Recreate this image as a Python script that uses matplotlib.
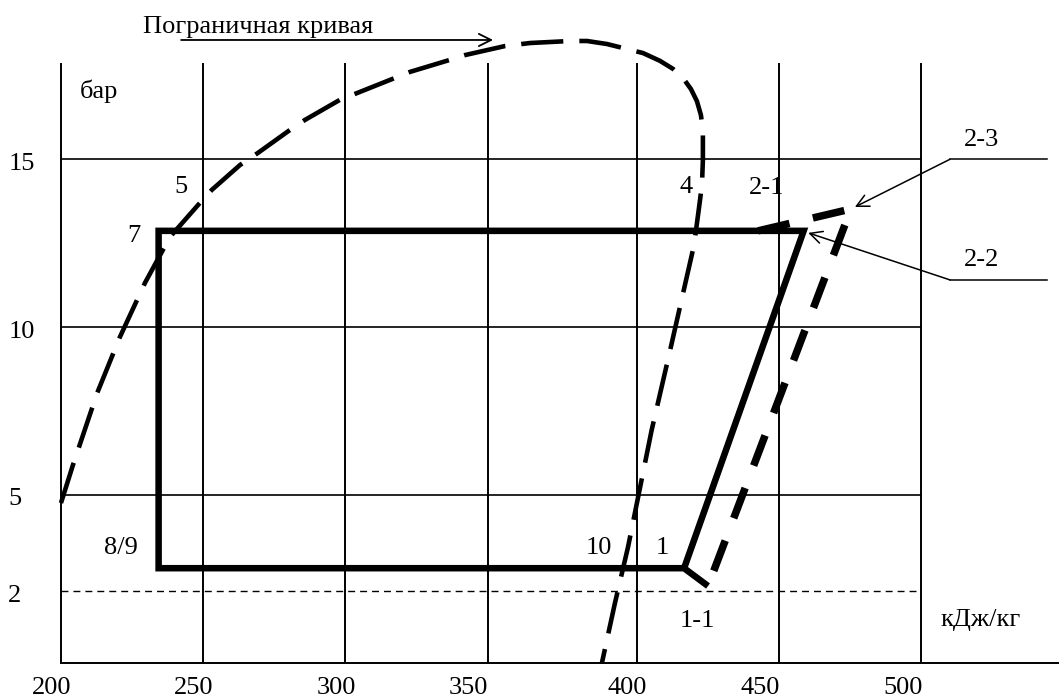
import matplotlib
matplotlib.use("Agg")
import matplotlib.pyplot as plt

plt.rcParams['font.family'] = ['Liberation Serif', 'DejaVu Serif']

# pressure (bar) vs enthalpy (kJ/kg)
grid_h = [200, 250, 300, 350, 402.3, 452.3, 502.3]
grid_p = [5, 10, 15]
p_low_line = 2.15

x_tick_labels = ['200', '250', '300', '350', '400', '450', '500']
y_tick_labels = ['15', '10', '5', '2']

# boundary curve (saturation dome)
curve_h = [200.1, 204.3, 212.8, 220.8, 229.6, 238.4, 248.9, 253.1, 263.0, 269.3,
           280.5, 285.8, 298.1, 304.1, 317.4, 322.7, 336.8, 342.0, 356.1, 364.9,
           379.0, 384.9, 391.9, 399.0, 404.6, 410.5, 415.1, 418.6, 421.4, 423.5,
           424.9, 425.6, 425.6, 425.6, 425.3, 424.6, 422.5, 419.3, 414.1, 407.6,
           403.5, 399.3, 394.7, 390.1]
curve_p = [4.77, 5.90, 8.04, 9.71, 11.32, 12.69, 13.70, 14.09, 14.83, 15.19,
           15.87, 16.17, 16.77, 16.97, 17.42, 17.60, 17.96, 18.10, 18.37, 18.46,
           18.52, 18.52, 18.43, 18.28, 18.16, 17.93, 17.69, 17.42, 17.09, 16.73,
           16.32, 15.87, 15.51, 14.98, 14.29, 13.79, 12.45, 11.26, 9.32, 6.94,
           5.22, 3.46, 1.79, 0.0]

# cycle: 1-1 -> 1 -> 8/9 -> 7 -> 2-2 -> 1
cycle_h = [427.4, 419.0, 234.4, 234.4, 461.0, 419.0]
cycle_p = [2.30, 2.83, 2.83, 12.87, 12.87, 2.83]

# real compression: 2-1 -> 2-3 -> 1-1
real_h = [445.0, 477.6, 427.4]
real_p = [12.87, 13.52, 2.30]

fig = plt.figure(figsize=(10.59, 6.99), dpi=100)
ax = fig.add_axes([0, 0, 1, 1])
ax.set_xlim(178.68, 550.7)
ax.set_ylim(-1.0625, 19.74)
ax.axis('off')

# grid
for h in grid_h:
    ax.plot([h, h], [0, 17.86], color='black', lw=1.4, solid_capstyle='butt')
for p in grid_p:
    ax.plot([200, grid_h[-1]], [p, p], color='black', lw=1.2)
ax.plot([200, 550.7], [0, 0], color='black', lw=1.4)
ax.plot([200, 501.2], [p_low_line, p_low_line], color='black', lw=1.0,
        linestyle=(0, (5, 3.6)))

# boundary curve
ax.plot(curve_h, curve_p, color='black', lw=3.3, linestyle=(0, (9.2, 3.5)),
        dash_capstyle='butt')

# cycle
ax.plot(cycle_h, cycle_p, color='black', lw=4.7, solid_joinstyle='miter',
        solid_capstyle='butt')
ax.plot(real_h, real_p, color='black', lw=5.4, linestyle=(0, (4.3, 3.2)),
        dash_capstyle='butt', dash_joinstyle='miter')

fs = 19
for lab, x in zip(x_tick_labels, [196.9, 246.8, 296.7, 343.1, 399.1, 445.7, 495.9]):
    ax.text(x, -0.9, lab, ha='center', va='baseline', fontsize=fs)
for lab, x, y in zip(y_tick_labels, [186.5, 186.5, 183.8, 183.8],
                     [14.67, 9.68, 4.71, 1.83]):
    ax.text(x, y, lab, ha='center', va='baseline', fontsize=fs)

ax.text(206.8, 16.81, 'бар', ha='left', va='baseline', fontsize=fs)
ax.text(523.0, 1.11, 'кДж/кг', ha='center', va='baseline', fontsize=fs)

point_labels = [
    ('5', 242.3, 14.01), ('7', 225.8, 12.54), ('4', 419.7, 14.0),
    ('2-1', 448.1, 13.97), ('2-3', 523.6, 15.4), ('2-2', 523.6, 11.82),
    ('8/9', 221.2, 3.25), ('10', 388.9, 3.25), ('1', 411.4, 3.25),
    ('1-1', 423.5, 1.08),
]
for lab, x, y in point_labels:
    ax.text(x, y, lab, ha='center', va='baseline', fontsize=fs)

# boundary curve caption with arrow
ax.text(228.9, 18.76, 'Пограничная кривая', ha='left', va='baseline', fontsize=fs)
ax.annotate('', xy=(351.9, 18.55), xytext=(242.3, 18.55),
            arrowprops=dict(arrowstyle='->', lw=1.3, color='black',
                            mutation_scale=22, shrinkA=0, shrinkB=0))

# leaders for 2-3 and 2-2
ax.plot([512.4, 546.5], [15.0, 15.0], color='black', lw=1.1)
ax.annotate('', xy=(479.0, 13.58), xytext=(512.4, 15.0),
            arrowprops=dict(arrowstyle='->', lw=1.1, color='black',
                            mutation_scale=22, shrinkA=0, shrinkB=0))
ax.plot([512.4, 546.5], [11.41, 11.41], color='black', lw=1.1)
ax.annotate('', xy=(462.6, 12.81), xytext=(512.4, 11.41),
            arrowprops=dict(arrowstyle='->', lw=1.1, color='black',
                            mutation_scale=22, shrinkA=0, shrinkB=0))

fig.savefig('out.png', dpi=100)
